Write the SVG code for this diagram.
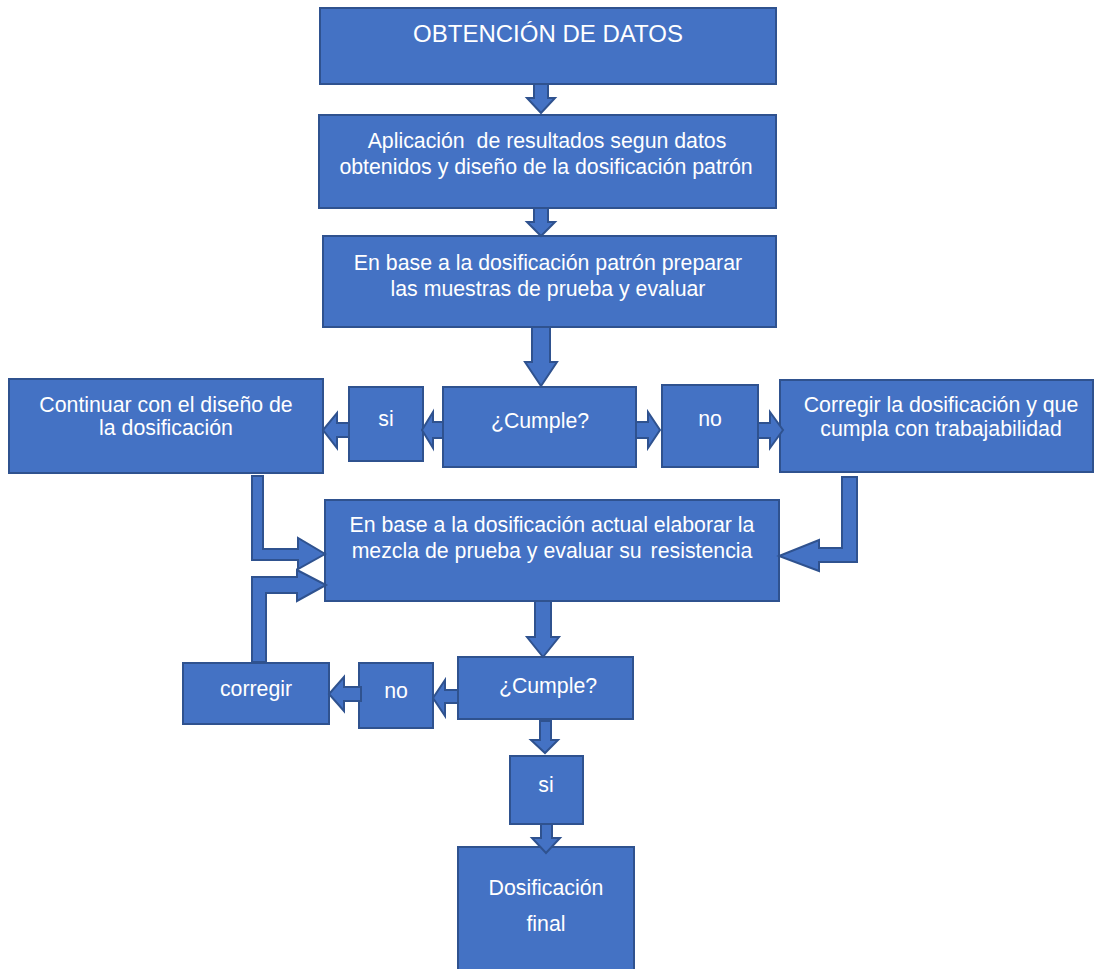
<svg xmlns="http://www.w3.org/2000/svg" width="1094" height="969" viewBox="0 0 1094 969">
<style>
.box{fill:#4472C4;stroke:#2F528F;stroke-width:2}
.arr{fill:#4472C4;stroke:#2F528F;stroke-width:2;stroke-linejoin:miter}
text{font-family:"Liberation Sans",Arial,sans-serif;fill:#FFFFFF;font-size:21.3px;text-anchor:middle;white-space:pre}
.t{font-size:24px}
</style>
<rect width="1094" height="969" fill="#FFFFFF"/>
<g id="n1"><rect class="box" x="320" y="8" width="456" height="76"/><text class="t" x="548" y="42">OBTENCIÓN DE DATOS</text></g>
<g id="n2"><rect class="box" x="319" y="115" width="457" height="93"/><text x="547" y="148" xml:space="preserve">Aplicación  de resultados segun datos</text><text x="546" y="174">obtenidos y diseño de la dosificación patrón</text></g>
<g id="n3"><rect class="box" x="323" y="236" width="453" height="91"/><text x="548" y="270">En base a la dosificación patrón preparar</text><text x="548" y="296">las muestras de prueba y evaluar</text></g>
<g id="n4"><rect class="box" x="443" y="387" width="193" height="80"/><text x="540" y="428">¿Cumple?</text></g>
<g id="n5"><rect class="box" x="349" y="387" width="74" height="74"/><text x="386" y="426">si</text></g>
<g id="n6"><rect class="box" x="9" y="379" width="314" height="94"/><text x="166" y="412">Continuar con el diseño de</text><text x="166" y="435">la dosificación</text></g>
<g id="n7"><rect class="box" x="662" y="385" width="96" height="82"/><text x="710" y="426">no</text></g>
<g id="n8"><rect class="box" x="780" y="380" width="313" height="92"/><text x="941" y="412">Corregir la dosificación y que</text><text x="941" y="436">cumpla con trabajabilidad</text></g>
<g id="n9"><rect class="box" x="325" y="500" width="454" height="101"/><text x="552" y="532">En base a la dosificación actual elaborar la</text><text x="552" y="558">mezcla de prueba y evaluar su <tspan dx="3">resistencia</tspan></text></g>
<g id="n10"><rect class="box" x="458" y="657" width="175" height="62"/><text x="548" y="693">¿Cumple?</text></g>
<g id="n11"><rect class="box" x="359" y="663" width="74" height="65"/><text x="396" y="698">no</text></g>
<g id="n12"><rect class="box" x="183" y="663" width="146" height="61"/><text x="256" y="696">corregir</text></g>
<g id="n13"><rect class="box" x="510" y="756" width="73" height="68"/><text x="546" y="792">si</text></g>
<g id="n14"><rect class="box" x="458" y="847" width="176" height="130"/><text x="546" y="895">Dosificación</text><text x="546" y="931">final</text></g>
<g id="connectors">
<polygon class="arr" points="534,84 548,84 548,98 555,98 541,113 527,98 534,98"/>
<polygon class="arr" points="534,208 548,208 548,222 555,222 541,236 527,222 534,222"/>
<polygon class="arr" points="532,327 550,327 550,362 557,362 541,386 525,362 532,362"/>
<polygon class="arr" points="443,422 433,422 433,412 422,430 433,448 433,438 443,438"/>
<polygon class="arr" points="349,423 337,423 337,413 323,430 337,448 337,437 349,437"/>
<polygon class="arr" points="636,422 648,422 648,412 660,430 648,448 648,438 636,438"/>
<polygon class="arr" points="758,423 770,423 770,412 783,430 770,448 770,438 758,438"/>
<polygon class="arr" points="252,476 263,476 263,549 298,549 298,538 325,554 298,569 298,560 252,560"/>
<polygon class="arr" points="252,662 252,577 297,577 297,570 326,585 297,601 297,593 266,593 266,662"/>
<polygon class="arr" points="842,477 857,477 857,562 819,562 819,571 779,556 819,540 819,548 842,548"/>
<polygon class="arr" points="535,601 551,601 551,637 559,637 543,657 527,637 535,637"/>
<polygon class="arr" points="458,690 445,690 445,680 433,698 445,716 445,703 458,703"/>
<polygon class="arr" points="361,687 344,687 344,677 329,694 344,711 344,701 361,701"/>
<polygon class="arr" points="540,721 551,721 551,740 558,740 545,753 531,740 540,740"/>
<polygon class="arr" points="541,824 552,824 552,838 560,838 546,853 532,838 541,838"/>
</g>
</svg>
